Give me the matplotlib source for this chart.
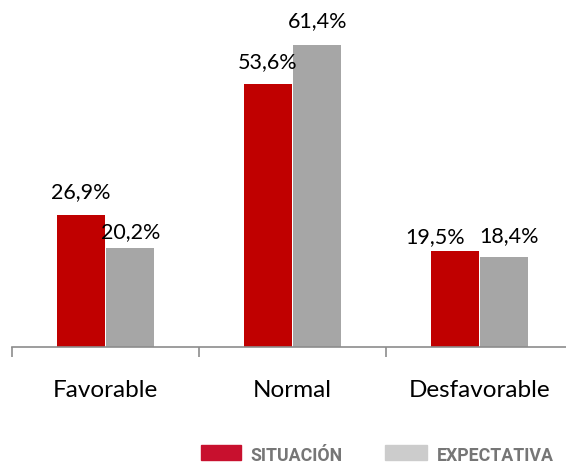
import matplotlib

matplotlib.use("Agg")
import matplotlib.pyplot as plt
from matplotlib.patches import Rectangle

# datos del gráfico
CATEGORIES = ["Favorable", "Normal", "Desfavorable"]
SITUACION = [26.9, 53.6, 19.5]
EXPECTATIVA = [20.2, 61.4, 18.4]

COLOR_SIT = "#C00000"
COLOR_EXP = "#A6A6A6"
LEGEND_SIT = "#C8102E"
LEGEND_EXP = "#CCCCCC"
AXIS_GRAY = "#8C8C8C"

# ajustes de etiqueta (px): separación sobre la barra y desplazamiento horizontal
GAP_SIT = [17, 16, 8]
GAP_EXP = [10, 18, 14]
SHIFT_SIT = [0, 0, -19]
SHIFT_EXP = [0, 0, 5]

plt.rcParams["font.family"] = ["Lato", "DejaVu Sans"]

fig = plt.figure(figsize=(5.66, 4.65), dpi=100)
ax = fig.add_axes([12 / 566, 118 / 465, 561 / 566, 344 / 465])

x = list(range(len(CATEGORIES)))
w = 0.257
gap = 0.005
bars_sit = ax.bar([i - w / 2 - gap for i in x], SITUACION, width=w, color=COLOR_SIT)
bars_exp = ax.bar([i + w / 2 + gap for i in x], EXPECTATIVA, width=w, color=COLOR_EXP)

px2pt = 72 / 100
for bars, vals, gaps, shifts in (
    (bars_sit, SITUACION, GAP_SIT, SHIFT_SIT),
    (bars_exp, EXPECTATIVA, GAP_EXP, SHIFT_EXP),
):
    for b, v, g, s in zip(bars, vals, gaps, shifts):
        ax.annotate(
            f"{v:.1f}%".replace(".", ","),
            xy=(b.get_x() + b.get_width() / 2, v),
            xytext=(s * px2pt, g * px2pt),
            textcoords="offset points",
            ha="center",
            va="baseline",
            fontsize=15.5,
            color="black",
        )

ax.set_xlim(-0.5, len(CATEGORIES) - 0.5)
ax.set_ylim(0, 70)

for side in ("top", "right", "left"):
    ax.spines[side].set_visible(False)
ax.spines["bottom"].set_color(AXIS_GRAY)
ax.spines["bottom"].set_linewidth(1.2)

ax.set_yticks([])
ax.set_xticks([i - 0.5 for i in range(len(CATEGORIES) + 1)])
ax.set_xticklabels([])
ax.tick_params(axis="x", which="major", length=7, width=1.2, color=AXIS_GRAY, direction="out")

# etiquetas de categoría
for i, cat in enumerate(CATEGORIES):
    ax.text(
        i,
        -50 / 344,
        cat,
        transform=ax.get_xaxis_transform(),
        ha="center",
        va="baseline",
        fontsize=17.5,
    )

# leyenda manual
legend_items = [
    (201, 40, LEGEND_SIT, 250, "SITUACIÓN"),
    (385, 42, LEGEND_EXP, 437, "EXPECTATIVA"),
]
for px, pw, col, tx, label in legend_items:
    fig.patches.append(
        Rectangle((px / 566, 5 / 465), pw / 566, 15 / 465, transform=fig.transFigure, color=col)
    )
    fig.text(
        tx / 566,
        4 / 465,
        label,
        fontsize=12.8,
        fontweight="bold",
        color="#767676",
        family=["Roboto", "DejaVu Sans"],
        va="baseline",
        ha="left",
    )

fig.savefig("out.png", dpi=100)
